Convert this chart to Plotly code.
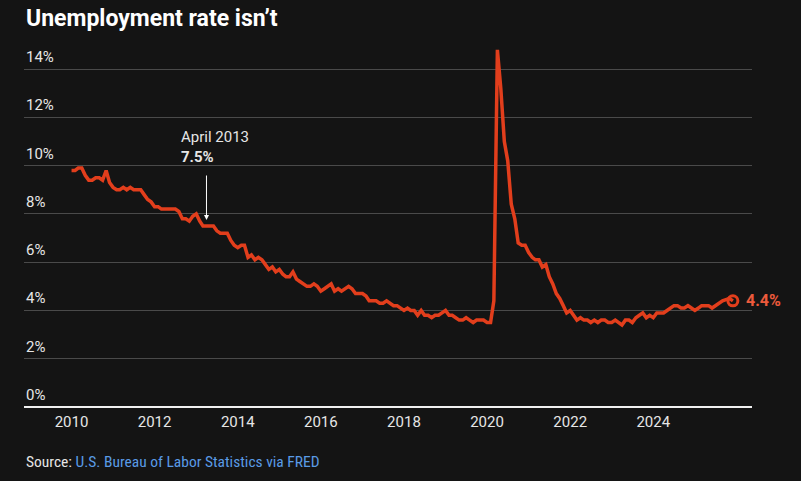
import pandas as pd
import plotly.graph_objects as go

# Monthly unemployment rate (%), Jan 2010 - Dec 2025 (Oct 2025 not published)
rate = [
    9.8, 9.8, 9.9, 9.9, 9.6, 9.4, 9.4, 9.5, 9.5, 9.4, 9.8, 9.3,   # 2010
    9.1, 9.0, 9.0, 9.1, 9.0, 9.1, 9.0, 9.0, 9.0, 8.8, 8.6, 8.5,   # 2011
    8.3, 8.3, 8.2, 8.2, 8.2, 8.2, 8.2, 8.1, 7.8, 7.8, 7.7, 7.9,   # 2012
    8.0, 7.7, 7.5, 7.5, 7.5, 7.5, 7.3, 7.2, 7.2, 7.2, 6.9, 6.7,   # 2013
    6.6, 6.7, 6.7, 6.2, 6.3, 6.1, 6.2, 6.1, 5.9, 5.7, 5.8, 5.6,   # 2014
    5.7, 5.5, 5.4, 5.4, 5.6, 5.3, 5.2, 5.1, 5.0, 5.0, 5.1, 5.0,   # 2015
    4.8, 4.9, 5.0, 5.1, 4.8, 4.9, 4.8, 4.9, 5.0, 4.9, 4.7, 4.7,   # 2016
    4.7, 4.6, 4.4, 4.4, 4.4, 4.3, 4.3, 4.4, 4.3, 4.2, 4.2, 4.1,   # 2017
    4.0, 4.1, 4.0, 4.0, 3.8, 4.0, 3.8, 3.8, 3.7, 3.8, 3.8, 3.9,   # 2018
    4.0, 3.8, 3.8, 3.7, 3.6, 3.6, 3.7, 3.6, 3.5, 3.6, 3.6, 3.6,   # 2019
    3.5, 3.5, 4.4, 14.8, 13.2, 11.0, 10.2, 8.4, 7.8, 6.8, 6.7, 6.7,  # 2020
    6.4, 6.2, 6.1, 6.1, 5.8, 5.9, 5.4, 5.1, 4.7, 4.5, 4.2, 3.9,   # 2021
    4.0, 3.8, 3.6, 3.7, 3.6, 3.6, 3.5, 3.6, 3.5, 3.6, 3.6, 3.5,   # 2022
    3.5, 3.6, 3.5, 3.4, 3.6, 3.6, 3.5, 3.7, 3.8, 3.9, 3.7, 3.8,   # 2023
    3.7, 3.9, 3.9, 3.9, 4.0, 4.1, 4.2, 4.2, 4.1, 4.1, 4.2, 4.1,   # 2024
    4.0, 4.1, 4.2, 4.2, 4.2, 4.1, 4.2, 4.3, 4.4, None, 4.5, 4.4,  # 2025
]
dates = pd.date_range("2010-01-01", periods=len(rate), freq="MS")

y_ticks = [0, 2, 4, 6, 8, 10, 12, 14]
x_tick_years = [2010, 2012, 2014, 2016, 2018, 2020, 2022, 2024]

callout_date = "2013-04-01"
callout_label = "April 2013"
callout_value = 7.5

RED = "#e23e1c"
BG = "#141414"
TXT = "#e6e6e6"
FONT = "Roboto"

fig = go.Figure()
fig.add_trace(go.Scatter(
    x=dates, y=rate, mode="lines", connectgaps=True,
    line=dict(color=RED, width=3.5), hoverinfo="skip", showlegend=False,
))
last_date = dates[-1]
last_val = rate[-1]
fig.add_trace(go.Scatter(
    x=[last_date], y=[last_val], mode="markers",
    marker=dict(symbol="circle-open", size=10, color=RED, line=dict(width=3, color=RED)),
    hoverinfo="skip", showlegend=False,
))

annotations = []
for v in y_ticks:
    annotations.append(dict(
        x=0, xref="paper", y=v, yref="y", text=f"{v}%", showarrow=False,
        xanchor="left", yanchor="bottom", yshift=1,
        font=dict(family=FONT, size=15, color=TXT),
    ))

annotations.append(dict(
    x=last_date, y=last_val, text=f"<b>{last_val}%</b>", showarrow=False,
    xanchor="left", xshift=11, yanchor="middle",
    font=dict(family=FONT, size=16, color="#ec5a3c"),
))

annotations.append(dict(
    x=callout_date, y=callout_value, text="", showarrow=True,
    ax=0, ay=-52, standoff=6, arrowhead=2, arrowsize=1, arrowwidth=1,
    arrowcolor="#ffffff",
))
annotations.append(dict(
    x=callout_date, y=callout_value,
    text=f"{callout_label}<br><b>{callout_value}%</b>", showarrow=False,
    xanchor="left", yanchor="bottom", xshift=-27, yshift=58, align="left",
    font=dict(family=FONT, size=15, color=TXT),
))

annotations.append(dict(
    x=0, xref="paper", y=1, yref="paper", yanchor="middle", yshift=27,
    text="<b>Unemployment rate isn’t</b>", showarrow=False, xanchor="left",
    font=dict(family=FONT, size=23, color="#ffffff"),
))
annotations.append(dict(
    x=0, xref="paper", y=0, yref="paper", showarrow=False, xanchor="left",
    yanchor="middle", yshift=-55,
    text="Source: <span style='color:#5a9be6'>U.S. Bureau of Labor Statistics via FRED</span>",
    font=dict(family="Liberation Sans Narrow, Roboto Condensed, Roboto", size=15.5, color=TXT),
))

fig.update_layout(
    width=801, height=481,
    margin=dict(l=24, r=49, t=45, b=74),
    paper_bgcolor=BG, plot_bgcolor=BG,
    xaxis=dict(
        type="date",
        range=["2008-11-09", "2026-05-18"],
        tickvals=[f"{y}-01-01" for y in x_tick_years],
        ticktext=[str(y) for y in x_tick_years],
        showgrid=False, zeroline=False, showline=False,
        ticks="outside", ticklen=1, tickcolor=BG,
        tickfont=dict(family=FONT, size=15, color=TXT),
    ),
    yaxis=dict(
        range=[0, 15], tickvals=y_ticks, showticklabels=False,
        showgrid=True, gridcolor="#4a4a4a", gridwidth=1,
        zeroline=True, zerolinecolor="#f0f0f0", zerolinewidth=2,
        showline=False,
    ),
    annotations=annotations,
)

fig.write_html(
    "out.html",
    config={"displayModeBar": False},
    post_script="document.body.style.margin='0';document.body.style.background='#141414';",
)
